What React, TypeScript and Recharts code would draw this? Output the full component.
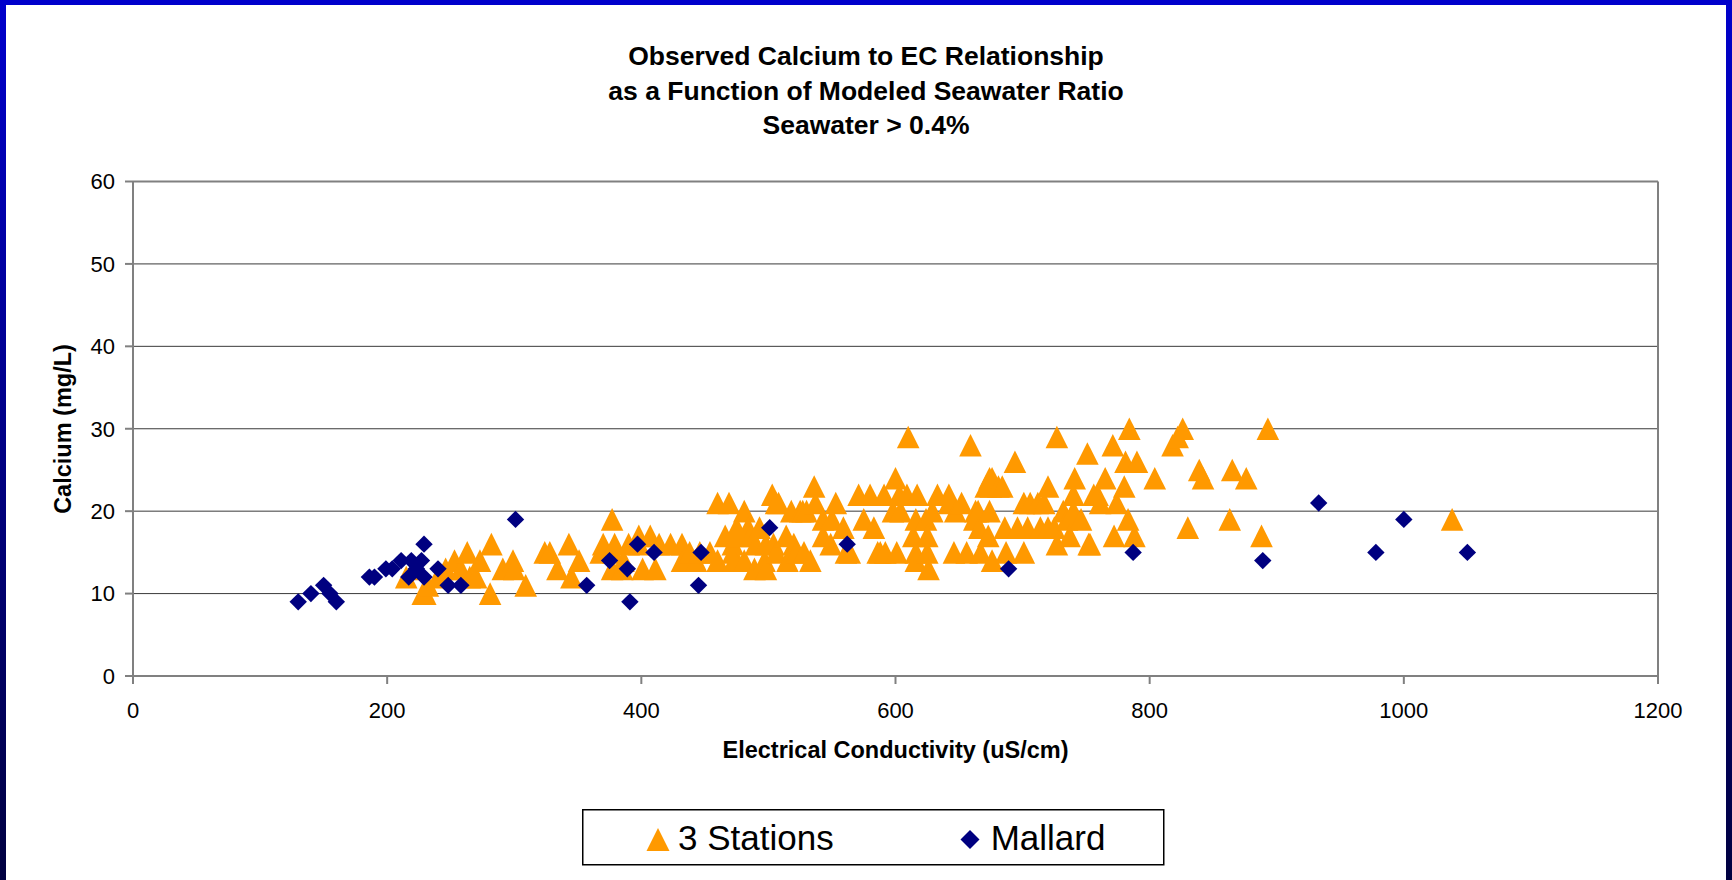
import React from "react"
import { ScatterChart, Scatter, XAxis, YAxis, CartesianGrid, ReferenceLine, Label } from "recharts"

// 3 Stations (EC uS/cm, Calcium mg/L)
const stationsEc = [
  215, 222, 228, 230, 232, 240, 246, 253, 258, 263, 265, 270, 273, 281, 282, 291, 299, 300, 309, 324,
  328, 334, 343, 345, 351, 368, 370, 377, 377, 378, 379, 385, 386,
  390, 398, 398, 401, 407, 411, 414, 423, 432, 432, 438, 443, 446, 454, 460, 460, 466, 469, 472, 472,
  473, 475, 475, 481, 481, 484, 486, 489, 490, 493, 497, 498, 498, 503, 504, 506, 506, 508, 514, 515,
  518, 520, 522, 525, 527, 528, 530, 533, 536, 537, 543, 543,
  549, 550, 553, 559, 561, 564, 571, 575, 580, 583, 586, 588, 591, 592, 598, 600, 601, 603, 604, 609,
  610, 614, 616, 616, 616, 617, 624, 625, 625, 626, 629, 633, 642, 642, 646, 647, 652, 656, 659, 662,
  663, 665, 666, 667, 671, 673, 674, 674, 675, 676, 676, 681, 684, 686, 687, 694, 696, 701, 701,
  704, 706, 712, 714, 717, 720, 720, 725, 727, 727, 732, 735, 737, 740, 741, 740, 746, 751, 752, 753,
  756, 759, 761, 765, 771, 772, 774, 780, 781, 783, 784, 788, 790, 804, 818, 822, 826, 830, 839, 842,
  863, 865, 876, 888, 893, 1038,
]
const stationsCa = [
  12, 13, 10, 10, 11, 12, 13, 14, 13, 15, 12, 12, 14, 10, 16, 13, 14, 13, 11, 15,
  15, 13, 16, 12, 14, 15, 16, 19, 13, 15, 16, 13, 14,
  16, 17, 16, 13, 17, 13, 16, 16, 16, 14, 15, 14, 15, 15, 14, 21, 17, 21, 15, 16,
  14, 17, 18, 20, 14, 18, 17, 13, 16, 18, 14, 13, 16, 22, 16, 21, 15, 21, 17, 14,
  20, 16, 15, 20, 20, 15, 20, 14, 23, 21, 19, 17,
  16, 19, 21, 18, 15, 15, 22, 19, 22, 18, 15, 15, 22, 15, 20, 24, 15, 22, 20, 22,
  29, 17, 19, 15, 14, 22, 19, 17, 15, 13, 20, 22, 21, 22, 15, 20, 21, 15, 28, 19,
  20, 20, 18, 15, 23, 17, 24, 20, 23, 14, 24, 23, 23, 18, 15, 26, 18, 15, 21,
  18, 21, 21, 18, 21, 23, 18, 18, 29, 16, 20, 19, 17, 22, 24, 20, 19, 27, 16, 16,
  22, 22, 21, 24, 28, 17, 21, 23, 26, 19, 30, 17, 26, 24, 28, 29, 30, 18, 25, 24,
  19, 25, 24, 17, 30, 19,
]

// Mallard
const mallardEc = [
  130, 140, 150, 155, 160, 186, 190, 199, 204, 211, 217, 219, 223, 227, 229, 229, 240, 248, 258, 301,
  357, 375, 389, 391, 397, 410, 445, 447, 501, 562, 689, 787, 889, 933, 978, 1000, 1050,
]
const mallardCa = [
  9, 10, 11, 10, 9, 12, 12, 13, 13, 14, 12, 14, 13, 14, 16, 12, 13, 11, 11, 19,
  11, 14, 13, 9, 16, 15, 11, 15, 18, 16, 13, 15, 14, 21, 15, 19, 15,
]

const xTicks = [0, 200, 400, 600, 800, 1000, 1200]
const yTicks = [0, 10, 20, 30, 40, 50, 60]
const titleLines = [
  "Observed Calcium to EC Relationship",
  "as a Function of Modeled Seawater Ratio",
  "Seawater > 0.4%",
]

const stations = stationsEc.map((ec, i) => ({ ec, ca: stationsCa[i] }))
const mallard = mallardEc.map((ec, i) => ({ ec, ca: mallardCa[i] }))

const FONT = '"Liberation Sans", Arial, sans-serif'
const ORANGE = "#FF9900"
const NAVY = "#000080"
const AXIS = "#808080"

const Triangle = (props: any) => {
  const { cx, cy } = props
  if (cx == null || cy == null) return null
  return <polygon points={`${cx},${cy - 11.3} ${cx + 11.3},${cy + 11.3} ${cx - 11.3},${cy + 11.3}`} fill={ORANGE} />
}

const Diamond = (props: any) => {
  const { cx, cy } = props
  if (cx == null || cy == null) return null
  return <polygon points={`${cx},${cy - 8.7} ${cx + 8.7},${cy} ${cx},${cy + 8.7} ${cx - 8.7},${cy}`} fill={NAVY} />
}

export default function App() {
  return (
    <div
      style={{
        position: "absolute",
        left: 0,
        top: 0,
        width: 1732,
        height: 880,
        background: "linear-gradient(to bottom, #0000CC, #000040)",
        fontFamily: FONT,
      }}
    >
      <div style={{ position: "absolute", left: 6, top: 5, right: 6, bottom: 0, background: "#fff" }} />

      <div style={{ position: "absolute", left: 0, top: 39, width: 1732, textAlign: "center" }}>
        {titleLines.map((t) => (
          <div key={t} style={{ fontSize: 26.5, fontWeight: "bold", lineHeight: "34.5px", color: "#000" }}>
            {t}
          </div>
        ))}
      </div>

      <div style={{ position: "absolute", left: 0, top: 0 }}>
        <ScatterChart width={1732} height={880} margin={{ top: 181.5, right: 74, bottom: 144, left: 0 }}>
          <CartesianGrid vertical={false} stroke="#3a3a3a" strokeWidth={1} />
          <XAxis
            type="number"
            dataKey="ec"
            domain={[0, 1200]}
            ticks={xTicks}
            height={60}
            stroke={AXIS}
            strokeWidth={2}
            tickSize={8}
            tickMargin={18}
            tick={{ fill: "#000", fontSize: 22, fontFamily: FONT }}
          >
            <Label
              content={() => (
                <text x={895.5} y={757.5} textAnchor="middle" fontSize={23.5} fontWeight="bold" fontFamily={FONT} fill="#000">
                  Electrical Conductivity (uS/cm)
                </text>
              )}
            />
          </XAxis>
          <YAxis
            type="number"
            dataKey="ca"
            domain={[0, 60]}
            ticks={yTicks}
            width={133}
            stroke={AXIS}
            strokeWidth={2}
            tickSize={8}
            tickMargin={10}
            tick={{ fill: "#000", fontSize: 22, fontFamily: FONT }}
          >
            <Label
              content={() => (
                <text
                  x={63}
                  y={429}
                  transform="rotate(-90 63 429)"
                  textAnchor="middle"
                  dominantBaseline="central"
                  fontSize={23.5}
                  fontWeight="bold"
                  fontFamily={FONT}
                  fill="#000"
                >
                  Calcium (mg/L)
                </text>
              )}
            />
          </YAxis>
          <ReferenceLine y={60} stroke={AXIS} strokeWidth={2} />
          <ReferenceLine x={1200} stroke={AXIS} strokeWidth={2} />
          <Scatter name="3 Stations" data={stations} shape={(p: any) => <Triangle {...p} />} isAnimationActive={false} />
          <Scatter name="Mallard" data={mallard} shape={(p: any) => <Diamond {...p} />} isAnimationActive={false} />
        </ScatterChart>
      </div>

      <svg style={{ position: "absolute", left: 582, top: 809 }} width={583} height={57}>
        <rect x={0.75} y={0.75} width={581} height={55} fill="#fff" stroke="#000" strokeWidth={1.5} />
        <polygon points="76,19 87.5,42 64.5,42" fill={ORANGE} />
        <text x={96} y={41} fontSize={35} fontFamily={FONT} fill="#000">3 Stations</text>
        <polygon points="388,21 397.5,30.5 388,40 378.5,30.5" fill={NAVY} />
        <text x={408.7} y={41} fontSize={35} fontFamily={FONT} fill="#000">Mallard</text>
      </svg>
    </div>
  )
}
